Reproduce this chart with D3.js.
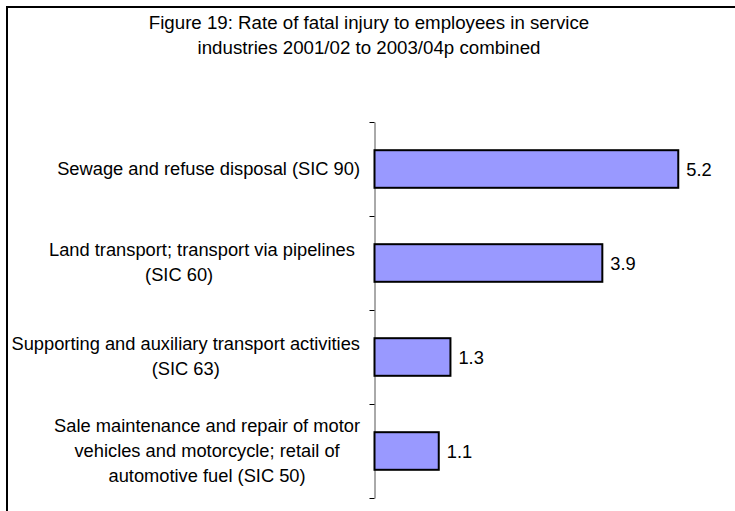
<!DOCTYPE html>
<html>
<head>
<meta charset="utf-8">
<script src="https://cdn.jsdelivr.net/npm/d3@7"></script>
<style>
  html, body { margin: 0; padding: 0; background: #fff; }
  svg { display: block; }
  text { font-family: "Liberation Sans", Arial, sans-serif; fill: #000; }
</style>
</head>
<body>
<svg id="chart" width="735" height="511"></svg>
<script>
// ---- data ----
const titleLines = [
  "Figure 19: Rate of fatal injury to employees in service",
  "industries 2001/02 to 2003/04p combined"
];
const categories = [
  "Sewage and refuse disposal (SIC 90)",
  "Land transport; transport via pipelines (SIC 60)",
  "Supporting and auxiliary transport activities (SIC 63)",
  "Sale maintenance and repair of motor vehicles and motorcycle; retail of automotive fuel (SIC 50)"
];
const categoryLines = [
  ["Sewage and refuse disposal (SIC 90)"],
  ["Land transport; transport via pipelines ", "(SIC 60)          "],
  ["Supporting and auxiliary transport activities", "(SIC 63)"],
  ["Sale maintenance and repair of motor", "vehicles and motorcycle; retail of", "automotive fuel (SIC 50)"]
];
const values = [5.2, 3.9, 1.3, 1.1];
const valueLabels = ["5.2", "3.9", "1.3", "1.1"];

// ---- layout ----
const svg = d3.select("#chart");
const labelFont = 18.3;
const titleFont = 18.7;
const plotTop = 122, plotBottom = 498, axisX = 374.5, plotRight = 725;

// outer frame (extends beyond the window on right/bottom)
svg.append("rect")
  .attr("x", 7).attr("y", 7).attr("width", 760).attr("height", 540)
  .attr("fill", "none").attr("stroke", "#000").attr("stroke-width", 2);

// title
svg.append("g").selectAll("text").data(titleLines).join("text")
  .attr("x", 369)
  .attr("y", (d, i) => 29 + i * 25)
  .attr("text-anchor", "middle")
  .style("font-size", titleFont + "px")
  .text(d => d);

const y = d3.scaleBand().domain(categories).range([plotTop, plotBottom])
  .paddingInner(0.6).paddingOuter(0.3);
const x = d3.scaleLinear().domain([0, 6]).range([axisX, plotRight]);

// category axis with ticks at band boundaries
const yb = d3.scaleLinear().domain([0, categories.length]).range([plotTop, plotBottom]);
const axisG = svg.append("g").attr("transform", `translate(${axisX},0)`)
  .call(d3.axisLeft(yb).ticks(categories.length).tickFormat("").tickSizeInner(5).tickSizeOuter(0));
axisG.select(".domain").attr("stroke", "#555").attr("stroke-width", 1);
axisG.selectAll(".tick line").attr("stroke", "#000").attr("stroke-width", 1);
axisG.selectAll(".tick text").remove();

// bars
svg.append("g").selectAll("rect").data(values).join("rect")
  .attr("x", x(0))
  .attr("y", (d, i) => y(categories[i]))
  .attr("width", d => x(d) - x(0))
  .attr("height", y.bandwidth())
  .attr("fill", "#9999FF")
  .attr("stroke", "#000")
  .attr("stroke-width", 2);

// value labels
svg.append("g").selectAll("text").data(values).join("text")
  .attr("x", d => x(d) + 8)
  .attr("y", (d, i) => y(categories[i]) + y.bandwidth() / 2 + 6.5)
  .style("font-size", labelFont + "px")
  .text((d, i) => valueLabels[i]);

// category labels: wrapped, centred within a block right-aligned near the axis
const ctx = document.createElement("canvas").getContext("2d");
ctx.font = `${labelFont}px "Liberation Sans"`;
const labelRight = 360;
const lineH = 25;
const labG = svg.append("g");
categoryLines.forEach((lines, ci) => {
  const widths = lines.map(l => ctx.measureText(l).width);
  const blockW = d3.max(widths);
  const cx = labelRight - blockW / 2;
  const cy = y(categories[ci]) + y.bandwidth() / 2;
  lines.forEach((l, li) => {
    labG.append("text")
      .attr("x", cx - widths[li] / 2)
      .attr("y", cy + (li - (lines.length - 1) / 2) * lineH + 5.5)
      .attr("xml:space", "preserve")
      .style("white-space", "pre")
      .style("font-size", labelFont + "px")
      .text(l);
  });
});
</script>
</body>
</html>
